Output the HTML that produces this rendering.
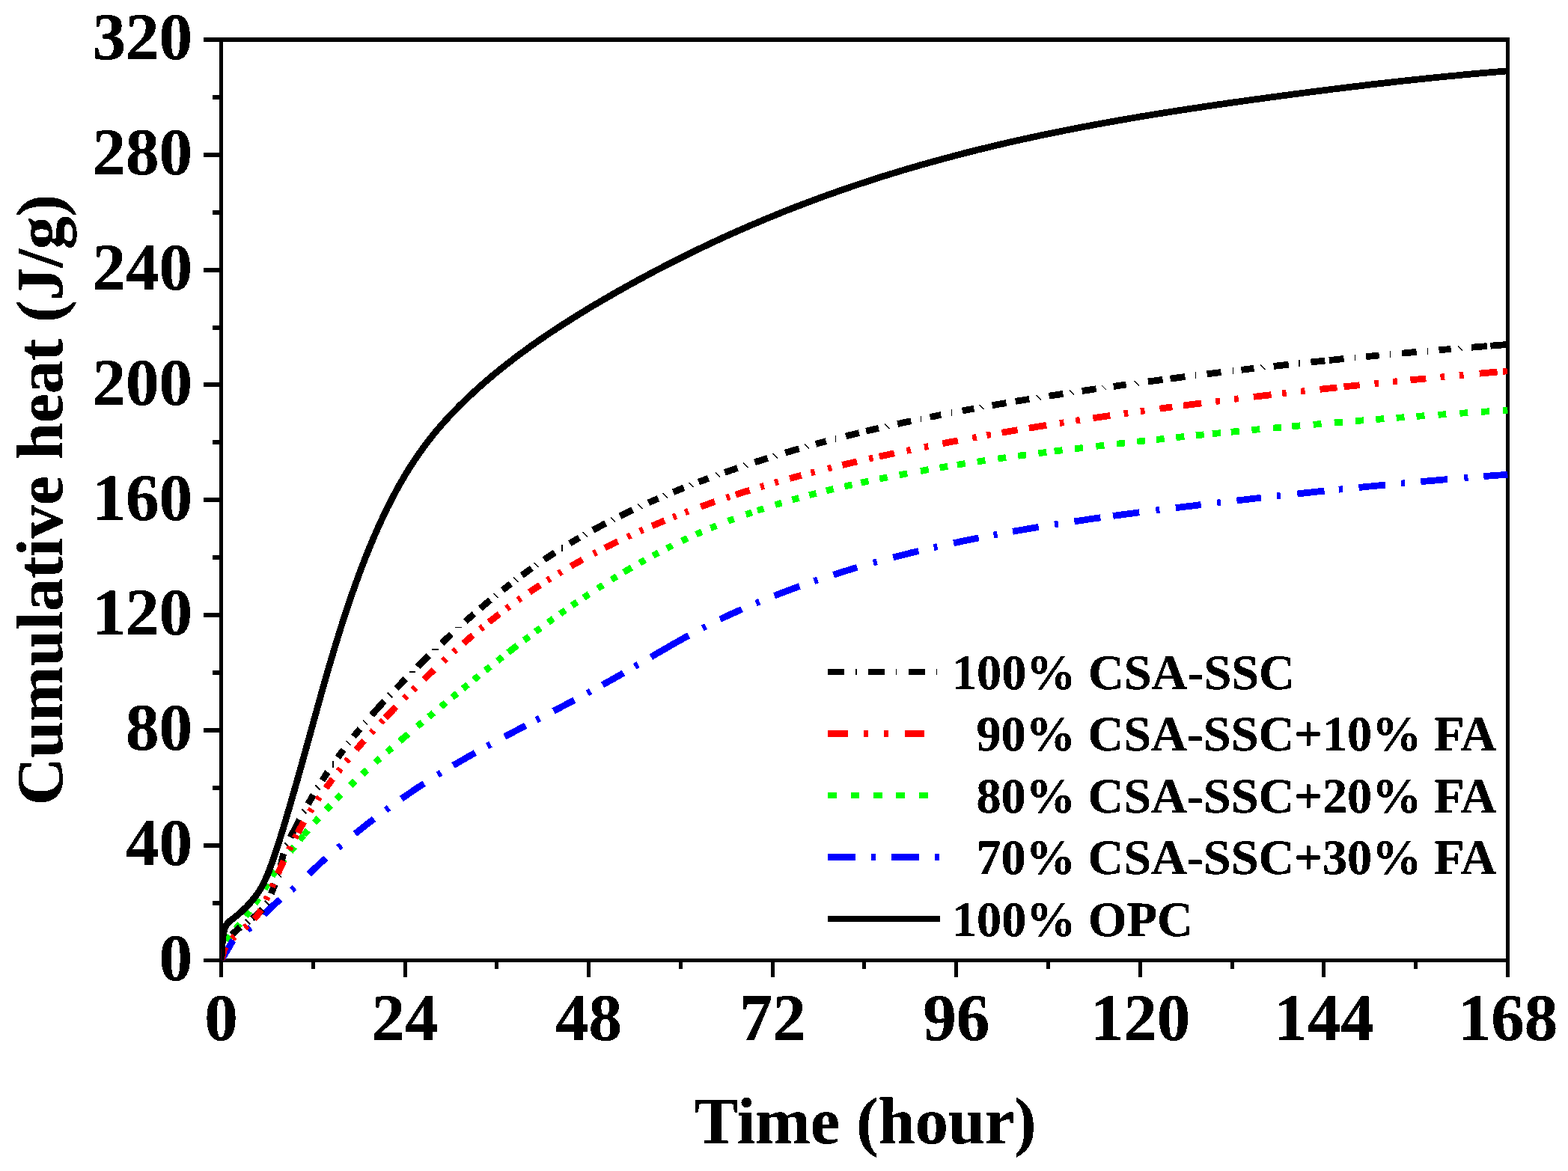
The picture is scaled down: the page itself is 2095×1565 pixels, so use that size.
<!DOCTYPE html>
<html lang="en">
<head>
<meta charset="utf-8">
<title>Cumulative heat</title>
<style>
html,body{margin:0;padding:0;background:#ffffff;}
body{width:2095px;height:1565px;overflow:hidden;}
svg{display:block;}
text{text-rendering:geometricPrecision;}
</style>
</head>
<body>
<svg width="2095" height="1565" viewBox="0 0 2095 1565">
<rect x="0" y="0" width="2095" height="1565" fill="#ffffff"/>
<defs><filter id="alias" x="-5%" y="-20%" width="110%" height="140%" color-interpolation-filters="sRGB"><feComponentTransfer><feFuncA type="discrete" tableValues="0 1 1 1"/></feComponentTransfer></filter></defs>
<g fill="#000000" shape-rendering="crispEdges">
<rect x="272" y="50" width="1745" height="6"/>
<rect x="272" y="1281" width="1745" height="5"/>
<rect x="293" y="50" width="5" height="1256"/>
<rect x="2012" y="50" width="5" height="1256"/>
<rect x="284" y="1204" width="11" height="6"/>
<rect x="272" y="1127" width="23" height="6"/>
<rect x="284" y="1050" width="11" height="6"/>
<rect x="272" y="973" width="23" height="6"/>
<rect x="284" y="896" width="11" height="6"/>
<rect x="272" y="819" width="23" height="6"/>
<rect x="284" y="742" width="11" height="6"/>
<rect x="272" y="665" width="23" height="6"/>
<rect x="284" y="588" width="11" height="6"/>
<rect x="272" y="511" width="23" height="6"/>
<rect x="284" y="435" width="11" height="6"/>
<rect x="272" y="358" width="23" height="6"/>
<rect x="284" y="281" width="11" height="6"/>
<rect x="272" y="204" width="23" height="6"/>
<rect x="284" y="127" width="11" height="6"/>
<rect x="416" y="1284" width="5" height="11"/>
<rect x="539" y="1284" width="5" height="22"/>
<rect x="661" y="1284" width="5" height="11"/>
<rect x="784" y="1284" width="5" height="22"/>
<rect x="907" y="1284" width="5" height="11"/>
<rect x="1030" y="1284" width="5" height="22"/>
<rect x="1152" y="1284" width="5" height="11"/>
<rect x="1275" y="1284" width="5" height="22"/>
<rect x="1398" y="1284" width="5" height="11"/>
<rect x="1521" y="1284" width="5" height="22"/>
<rect x="1644" y="1284" width="5" height="11"/>
<rect x="1766" y="1284" width="5" height="22"/>
<rect x="1889" y="1284" width="5" height="11"/>
</g>
<defs><clipPath id="plotclip"><rect x="295.5" y="53" width="1719" height="1230.5"/></clipPath></defs>
<g clip-path="url(#plotclip)">
<g shape-rendering="crispEdges">
<path d="M302.5,1257.6 L303.3,1256.1 L304.2,1254.7 L305.1,1253.3 L306.1,1251.9 L307.1,1250.6 M315.2,1241.2 L316.3,1239.9 L317.4,1238.7 L318.5,1237.4 L319.6,1236.1 L320.6,1234.8 M328.3,1224.5 L329.3,1223.1 L330.3,1221.8 L331.3,1220.4 L332.3,1219.0 L333.3,1217.7 M340.6,1207.5 L341.6,1206.1 L342.6,1204.7 L343.5,1203.3 L344.5,1202.0 L345.4,1200.6 M353.5,1188.1 L354.4,1186.7 L355.2,1185.2 L356.1,1183.8 L356.9,1182.3 L357.8,1180.9 M363.4,1171.0 L364.3,1169.6 L365.2,1168.2 L366.1,1166.7 L367.0,1165.3 L368.0,1164.0 M375.1,1154.6 L376.1,1153.2 L377.1,1151.9 L378.2,1150.6 L379.2,1149.3 L380.3,1148.0 M388.1,1138.1 L389.1,1136.7 L390.1,1135.4 L391.2,1134.1 L392.2,1132.8 L393.3,1131.5 M400.3,1122.8 L401.3,1121.5 L402.4,1120.2 L403.5,1118.9 L404.5,1117.6 L405.6,1116.3 M405.8,1116.0 L406.9,1114.7 L408.0,1113.5 L409.1,1112.2 L410.2,1110.9 L411.3,1109.6 M420.1,1099.6 L421.2,1098.3 L422.3,1097.1 L423.4,1095.8 L424.5,1094.6 L425.7,1093.3 M435.9,1082.3 L437.1,1081.0 L438.2,1079.8 L439.4,1078.6 L440.5,1077.4 L441.7,1076.2 M449.8,1067.9 L451.0,1066.7 L452.1,1065.5 L453.3,1064.3 L454.5,1063.1 L455.7,1062.0 M468.3,1049.7 L469.5,1048.5 L470.7,1047.4 L471.9,1046.2 L473.1,1045.0 L474.4,1043.9 M484.1,1034.8 L485.3,1033.6 L486.6,1032.5 L487.8,1031.4 L489.0,1030.2 L490.3,1029.1 M501.3,1019.2 L502.5,1018.0 L503.8,1016.9 L505.0,1015.8 L506.3,1014.7 L507.6,1013.6 M517.2,1005.1 L518.5,1004.0 L519.8,1002.9 L521.0,1001.8 L522.3,1000.7 L523.6,999.6 M534.0,990.6 L535.5,989.4 L536.9,988.2 L538.3,986.9 L539.8,985.7 L541.2,984.5 L542.6,983.3 L544.1,982.1 L545.5,980.9 M557.6,970.7 L558.9,969.6 L560.2,968.6 L561.5,967.5 L562.8,966.4 L564.1,965.3 M572.8,958.0 L574.1,957.0 L575.4,955.9 L576.7,954.8 L578.0,953.8 L579.3,952.7 M589.2,944.5 L590.5,943.4 L591.7,942.3 L593.0,941.3 L594.3,940.2 L595.6,939.1 M604.2,932.1 L605.5,931.0 L606.8,929.9 L608.1,928.9 L609.4,927.8 L610.7,926.7 M618.5,920.3 L619.8,919.3 L621.1,918.2 L622.4,917.1 L623.7,916.1 L625.0,915.0 M633.1,908.5 L634.4,907.4 L635.7,906.4 L637.0,905.3 L638.3,904.3 L639.6,903.2 M648.4,896.1 L649.8,895.1 L651.1,894.0 L652.4,893.0 L653.7,891.9 L655.0,890.9 M664.7,883.2 L666.0,882.2 L667.3,881.1 L668.6,880.1 L670.0,879.1 L671.3,878.0 M679.0,872.0 L680.5,870.8 L682.0,869.7 L683.5,868.5 L685.0,867.4 L686.5,866.2 L688.1,865.0 L689.6,863.9 L691.1,862.7 M700.2,855.7 L701.6,854.7 L702.9,853.7 L704.3,852.7 L705.6,851.7 L707.0,850.7 M715.4,844.3 L716.8,843.3 L718.1,842.3 L719.5,841.3 L720.8,840.3 L722.2,839.3 M732.4,831.9 L733.7,830.9 L735.1,829.9 L736.4,828.9 L737.8,827.9 L739.2,827.0 M748.4,820.4 L749.8,819.4 L751.2,818.4 L752.5,817.5 L753.9,816.5 L755.3,815.5 M764.2,809.3 L765.6,808.4 L767.0,807.4 L768.4,806.5 L769.8,805.5 L771.1,804.6 M779.9,798.7 L781.3,797.7 L782.7,796.8 L784.1,795.9 L785.5,794.9 L786.9,794.0 M798.6,786.4 L800.0,785.5 L801.4,784.6 L802.8,783.7 L804.2,782.8 L805.6,781.9 M817.0,774.8 L818.4,773.9 L819.8,773.0 L821.2,772.1 L822.7,771.3 L824.1,770.4 M833.4,764.8 L834.9,763.9 L836.4,763.0 L837.9,762.1 L839.4,761.2 L840.9,760.3 L842.4,759.5 L843.9,758.6 M854.6,752.5 L856.0,751.6 L857.5,750.8 L859.0,750.0 L860.4,749.2 L861.9,748.3 M872.5,742.5 L874.0,741.7 L875.5,741.0 L877.0,740.2 L878.4,739.4 L879.9,738.6 M890.9,732.9 L892.3,732.2 L893.8,731.4 L895.3,730.6 L896.8,729.9 L898.3,729.1 M911.0,723.0 L912.5,722.2 L914.0,721.5 L915.5,720.8 L917.0,720.1 L918.6,719.4 M930.0,714.2 L931.5,713.5 L933.0,712.8 L934.6,712.1 L936.1,711.4 L937.7,710.8 M949.4,705.7 L951.0,705.1 L952.5,704.5 L954.1,703.8 L955.6,703.2 L957.2,702.5 M972.8,696.4 L974.4,695.8 L975.9,695.2 L977.5,694.6 L979.1,694.0 L980.7,693.4 M996.6,687.6 L998.2,687.1 L999.9,686.5 L1001.5,685.9 L1003.1,685.4 L1004.7,684.8 M1011.8,682.4 L1013.5,681.9 L1015.2,681.3 L1016.9,680.7 L1018.6,680.2 L1020.3,679.6 M1035.7,674.8 L1037.5,674.2 L1039.2,673.7 L1041.0,673.1 L1042.8,672.6 L1044.5,672.1 M1058.4,668.0 L1060.2,667.5 L1062.0,667.0 L1063.9,666.5 L1065.7,666.0 L1067.5,665.5 M1081.2,661.7 L1083.1,661.2 L1085.0,660.7 L1086.8,660.3 L1088.7,659.8 L1090.6,659.3 M1103.9,655.9 L1105.5,655.5 L1107.1,655.1 L1108.7,654.7 L1110.4,654.3 L1112.0,653.9 L1113.6,653.5 M1128.4,650.1 L1130.1,649.7 L1131.7,649.3 L1133.4,648.9 L1135.1,648.5 L1136.7,648.2 L1138.4,647.8 M1150.3,645.2 L1152.0,644.8 L1153.7,644.4 L1155.4,644.1 L1157.1,643.7 L1158.8,643.3 L1160.5,643.0 M1175.2,639.9 L1177.0,639.6 L1178.7,639.2 L1180.5,638.9 L1182.2,638.5 L1183.9,638.2 L1185.7,637.8 M1201.7,634.7 L1203.5,634.4 L1205.2,634.1 L1207.0,633.7 L1208.8,633.4 L1210.5,633.1 L1212.3,632.7 M1229.9,629.5 L1231.7,629.2 L1233.5,628.9 L1235.3,628.6 L1237.1,628.3 L1238.9,627.9 L1240.7,627.6 M1255.5,625.1 L1257.3,624.8 L1259.1,624.5 L1260.9,624.2 L1262.7,623.9 L1264.5,623.6 L1266.3,623.3 M1278.9,621.3 L1280.7,621.0 L1282.5,620.7 L1284.3,620.4 L1286.2,620.1 L1288.0,619.8 L1289.8,619.5 M1305.6,617.1 L1307.4,616.9 L1309.2,616.6 L1311.0,616.3 L1312.8,616.0 L1314.6,615.8 L1316.4,615.5 M1333.2,613.1 L1335.1,612.8 L1336.9,612.6 L1338.7,612.3 L1340.5,612.0 L1342.3,611.8 L1344.1,611.5 M1360.2,609.3 L1362.0,609.1 L1363.8,608.8 L1365.6,608.6 L1367.5,608.4 L1369.3,608.1 L1371.1,607.9 M1387.4,605.7 L1389.2,605.5 L1391.1,605.3 L1392.9,605.1 L1394.7,604.8 L1396.5,604.6 L1398.3,604.4 M1408.7,603.1 L1410.5,602.8 L1412.4,602.6 L1414.2,602.4 L1416.0,602.2 L1417.8,601.9 L1419.6,601.7 M1436.0,599.7 L1437.8,599.5 L1439.6,599.3 L1441.5,599.1 L1443.3,598.9 L1445.1,598.6 L1446.9,598.4 M1464.3,596.4 L1466.1,596.2 L1467.9,596.0 L1469.7,595.8 L1471.6,595.6 L1473.4,595.4 L1475.2,595.1 M1492.1,593.2 L1493.9,593.0 L1495.7,592.8 L1497.5,592.6 L1499.4,592.4 L1501.2,592.2 L1503.0,592.0 M1519.2,590.2 L1521.0,590.0 L1522.8,589.8 L1524.6,589.6 L1526.4,589.4 L1528.3,589.2 L1530.1,589.0 M1544.8,587.4 L1546.6,587.3 L1548.4,587.1 L1550.2,586.9 L1552.0,586.7 L1553.9,586.5 L1555.7,586.3 M1571.4,584.6 L1573.2,584.5 L1575.0,584.3 L1576.8,584.1 L1578.7,583.9 L1580.5,583.7 L1582.3,583.5 M1597.7,581.9 L1599.6,581.8 L1601.4,581.6 L1603.2,581.4 L1605.0,581.2 L1606.9,581.0 L1608.7,580.8 M1619.9,579.7 L1621.7,579.5 L1623.5,579.4 L1625.4,579.2 L1627.2,579.0 L1629.0,578.8 L1630.8,578.7 M1644.8,577.3 L1646.6,577.1 L1648.4,576.9 L1650.2,576.8 L1652.1,576.6 L1653.9,576.4 L1655.7,576.3 M1672.4,574.7 L1674.2,574.5 L1676.1,574.3 L1677.9,574.2 L1679.7,574.0 L1681.5,573.8 L1683.4,573.7 M1701.1,572.0 L1702.9,571.9 L1704.7,571.7 L1706.5,571.5 L1708.4,571.4 L1710.2,571.2 L1712.0,571.1 M1726.2,569.8 L1728.1,569.6 L1729.9,569.5 L1731.7,569.3 L1733.5,569.2 L1735.4,569.0 L1737.2,568.8 M1754.6,567.3 L1756.5,567.2 L1758.3,567.0 L1760.1,566.9 L1761.9,566.7 L1763.8,566.6 L1765.6,566.4 M1782.8,565.0 L1784.6,564.8 L1786.5,564.7 L1788.3,564.5 L1790.1,564.4 L1791.9,564.2 L1793.8,564.1 M1811.2,562.6 L1813.0,562.5 L1814.9,562.4 L1816.7,562.2 L1818.5,562.1 L1820.4,561.9 L1822.2,561.8 M1838.4,560.5 L1840.2,560.4 L1842.0,560.2 L1843.9,560.1 L1845.7,559.9 L1847.5,559.8 L1849.4,559.7 M1865.6,558.4 L1867.4,558.3 L1869.2,558.1 L1871.0,558.0 L1872.9,557.9 L1874.7,557.7 L1876.5,557.6 M1892.5,556.4 L1894.3,556.3 L1896.1,556.2 L1898.0,556.0 L1899.8,555.9 L1901.6,555.8 L1903.5,555.6 M1921.4,554.4 L1923.2,554.2 L1925.1,554.1 L1926.9,554.0 L1928.7,553.8 L1930.5,553.7 L1932.4,553.6 M1950.3,552.4 L1952.1,552.2 L1954.0,552.1 L1955.8,552.0 L1957.6,551.9 L1959.5,551.7 L1961.3,551.6 M1979.0,550.4 L1980.8,550.3 L1982.6,550.2 L1984.4,550.1 L1986.3,550.0 L1988.1,549.8 L1989.9,549.7 M2007.9,548.6 L2009.5,548.5 L2011.2,548.4 L2012.8,548.3 L2014.5,548.2" fill="none" stroke="#00ff00" stroke-width="8.8" stroke-linecap="butt" stroke-linejoin="round"/>
<path d="M295.6,1283.3 L296.6,1281.6 L297.6,1279.9 L298.6,1278.2 L299.6,1276.6 L300.6,1274.9 L301.7,1273.2 L302.7,1271.6 L303.6,1269.9 L304.6,1268.2 L305.6,1266.5 L306.5,1264.8 L307.5,1263.1 L308.5,1261.4 L309.5,1259.7 L310.5,1258.1 L311.7,1256.5 M330.8,1242.4 L332.2,1241.5 L333.5,1240.5 L334.9,1239.5 M352.7,1222.7 L354.1,1221.2 L355.4,1219.8 L356.8,1218.3 L358.2,1216.9 L359.6,1215.4 L361.0,1214.0 L362.4,1212.6 L363.8,1211.2 L365.3,1209.8 L366.8,1208.5 L368.3,1207.2 L369.8,1205.9 L371.3,1204.6 L372.9,1203.3 L374.4,1202.0 M389.8,1189.6 L391.1,1188.5 L392.3,1187.4 L393.6,1186.3 M412.6,1168.3 L414.0,1166.9 L415.4,1165.6 L416.8,1164.2 L418.2,1162.8 L419.6,1161.5 L421.0,1160.1 L422.5,1158.8 L423.9,1157.4 L425.3,1156.1 L426.7,1154.8 L428.2,1153.5 L429.6,1152.1 L431.1,1150.8 L432.5,1149.5 L434.0,1148.2 L435.5,1146.9 M452.0,1132.8 L453.3,1131.8 L454.6,1130.7 L455.9,1129.6 M474.3,1114.4 L475.8,1113.2 L477.3,1112.0 L478.8,1110.8 L480.2,1109.6 L481.7,1108.4 L483.2,1107.2 L484.7,1106.1 L486.1,1104.9 L487.6,1103.7 L489.1,1102.5 L490.6,1101.4 L492.1,1100.2 L493.6,1099.0 L495.1,1097.9 L496.6,1096.7 L498.1,1095.6 L499.6,1094.4 M515.4,1082.6 L516.7,1081.6 L518.1,1080.6 L519.4,1079.6 M536.3,1067.6 L537.9,1066.5 L539.5,1065.4 L541.0,1064.3 L542.6,1063.2 L544.2,1062.1 L545.8,1061.0 L547.4,1059.9 L549.0,1058.8 L550.6,1057.8 L552.2,1056.7 L553.7,1055.6 L555.3,1054.5 L556.9,1053.5 L558.5,1052.4 L560.1,1051.4 L561.8,1050.3 L563.4,1049.2 L565.0,1048.2 L566.6,1047.2 M584.9,1035.5 L586.4,1034.6 L587.8,1033.7 L589.2,1032.9 M605.5,1023.0 L607.2,1022.0 L608.9,1021.0 L610.6,1020.0 L612.3,1019.0 L614.1,1018.0 L615.8,1017.0 L617.5,1016.0 L619.3,1015.0 L621.0,1014.0 L622.7,1013.0 L624.5,1012.0 L626.2,1011.0 L627.9,1010.0 L629.7,1009.0 L631.4,1008.0 L633.2,1007.1 L634.9,1006.1 M651.1,997.1 L652.5,996.3 L654.0,995.5 L655.5,994.7 M674.4,984.5 L676.1,983.6 L677.8,982.7 L679.6,981.7 L681.3,980.8 L683.1,979.9 L684.8,979.0 L686.5,978.1 L688.3,977.1 L690.0,976.2 L691.8,975.3 L693.5,974.4 L695.3,973.5 L697.0,972.5 L698.7,971.6 L700.5,970.7 L702.2,969.8 M716.6,962.3 L718.1,961.5 L719.6,960.7 L721.1,959.9 M739.5,950.3 L741.2,949.4 L743.0,948.5 L744.7,947.6 L746.4,946.7 L748.2,945.8 L749.9,944.9 L751.7,943.9 L753.4,943.0 L755.2,942.1 L756.9,941.2 L758.6,940.3 L760.4,939.3 L762.1,938.4 L763.9,937.5 L765.6,936.6 L767.4,935.7 M784.8,926.4 L786.2,925.6 L787.7,924.8 L789.2,924.0 M805.0,915.3 L806.6,914.4 L808.3,913.5 L809.9,912.6 L811.6,911.6 L813.2,910.7 L814.9,909.8 L816.6,908.9 L818.2,907.9 L819.9,907.0 L821.5,906.1 L823.2,905.1 L824.8,904.2 L826.5,903.2 L828.1,902.3 L829.7,901.4 L831.4,900.4 L833.0,899.5 M848.2,890.7 L849.6,889.8 L851.0,889.0 L852.5,888.2 M869.7,878.1 L871.4,877.1 L873.1,876.1 L874.8,875.1 L876.5,874.1 L878.1,873.2 L879.8,872.2 L881.5,871.2 L883.2,870.2 L884.8,869.3 L886.5,868.3 L888.2,867.3 L889.9,866.4 L891.6,865.4 L893.3,864.4 L894.9,863.5 L896.6,862.5 L898.3,861.5 L900.0,860.6 L901.7,859.6 L903.4,858.6 L905.1,857.7 L906.8,856.7 L908.4,855.8 L910.1,854.8 L911.8,853.9 L913.5,853.0 L915.2,852.0 L916.9,851.1 L918.6,850.1 L920.3,849.2 M938.6,839.4 L940.1,838.7 L941.6,837.9 L943.1,837.2 M962.1,827.7 L963.8,826.9 L965.5,826.1 L967.2,825.2 L968.9,824.4 L970.6,823.6 L972.3,822.8 L974.1,822.0 L975.8,821.2 L977.5,820.4 L979.2,819.7 L980.9,818.9 L982.6,818.1 L984.3,817.3 L986.1,816.5 L987.8,815.8 L989.5,815.0 L991.2,814.2 M1010.1,806.1 L1011.6,805.5 L1013.2,804.8 L1014.7,804.2 M1034.7,796.1 L1036.5,795.5 L1038.2,794.8 L1040.0,794.1 L1041.8,793.4 L1043.5,792.7 L1045.3,792.0 L1047.1,791.4 L1048.9,790.7 L1050.6,790.0 L1052.4,789.4 L1054.2,788.7 L1056.0,788.0 L1057.7,787.4 L1059.5,786.7 L1061.3,786.1 L1063.1,785.4 L1064.9,784.8 L1066.6,784.1 L1068.4,783.5 M1087.8,776.7 L1089.3,776.2 L1090.9,775.6 L1092.5,775.1 M1113.5,768.2 L1115.4,767.6 L1117.2,767.0 L1119.1,766.4 L1120.9,765.8 L1122.8,765.2 L1124.7,764.6 L1126.5,764.0 L1128.4,763.5 L1130.3,762.9 L1132.1,762.3 L1134.0,761.7 L1135.9,761.2 L1137.8,760.6 L1139.6,760.0 L1141.5,759.5 L1143.4,758.9 L1145.2,758.4 M1166.9,752.1 L1168.5,751.7 L1170.1,751.2 L1171.7,750.8 M1193.2,745.0 L1195.1,744.5 L1197.0,744.0 L1198.9,743.5 L1200.8,743.0 L1202.7,742.5 L1204.6,742.1 L1206.5,741.6 L1208.4,741.1 L1210.3,740.6 L1212.1,740.2 L1214.0,739.7 L1215.9,739.2 L1217.8,738.7 L1219.7,738.3 L1221.6,737.8 L1223.5,737.3 L1225.4,736.9 L1227.3,736.4 M1247.6,731.7 L1249.3,731.3 L1250.9,730.9 L1252.5,730.5 M1274.1,725.8 L1276.0,725.4 L1277.8,725.0 L1279.7,724.6 L1281.6,724.2 L1283.4,723.8 L1285.3,723.4 L1287.2,723.0 L1289.0,722.6 L1290.9,722.3 L1292.8,721.9 L1294.6,721.5 L1296.5,721.1 L1298.4,720.7 L1300.2,720.4 L1302.1,720.0 L1304.0,719.6 L1305.9,719.2 L1307.7,718.9 M1327.6,715.0 L1329.2,714.7 L1330.9,714.4 L1332.5,714.1 M1353.1,710.3 L1355.0,710.0 L1357.0,709.7 L1358.9,709.3 L1360.8,709.0 L1362.7,708.6 L1364.7,708.3 L1366.6,708.0 L1368.5,707.6 L1370.5,707.3 L1372.4,707.0 L1374.3,706.6 L1376.2,706.3 L1378.2,706.0 L1380.1,705.7 L1382.0,705.3 L1384.0,705.0 L1385.9,704.7 L1387.8,704.4 M1409.0,701.0 L1410.6,700.7 L1412.3,700.4 L1413.9,700.2 M1435.4,696.9 L1437.3,696.6 L1439.2,696.3 L1441.2,696.0 L1443.1,695.8 L1445.1,695.5 L1447.0,695.2 L1449.0,694.9 L1450.9,694.6 L1452.8,694.3 L1454.8,694.0 L1456.7,693.8 L1458.7,693.5 L1460.6,693.2 L1462.5,692.9 L1464.5,692.7 L1466.4,692.4 L1468.4,692.1 L1470.3,691.8 M1487.1,689.5 L1489.0,689.2 L1491.0,689.0 L1492.9,688.7 L1494.9,688.4 L1496.8,688.2 L1498.8,687.9 L1500.7,687.7 L1502.7,687.4 L1504.6,687.1 L1506.6,686.9 L1508.5,686.6 L1510.5,686.4 L1512.4,686.1 L1514.4,685.9 L1516.3,685.6 L1518.3,685.3 L1520.2,685.1 L1522.2,684.8 M1544.4,682.0 L1546.0,681.8 L1547.7,681.6 L1549.3,681.4 M1570.8,678.7 L1572.6,678.5 L1574.5,678.2 L1576.4,678.0 L1578.3,677.8 L1580.2,677.6 L1582.0,677.3 L1583.9,677.1 L1585.8,676.9 L1587.7,676.6 L1589.6,676.4 L1591.4,676.2 L1593.3,676.0 L1595.2,675.7 L1597.1,675.5 L1598.9,675.3 L1600.8,675.0 L1602.7,674.8 L1604.6,674.6 M1599.8,675.2 L1601.4,675.0 L1603.1,674.8 L1604.7,674.6 M1626.1,672.0 L1627.7,671.8 L1629.4,671.7 L1631.0,671.5 M1652.4,669.0 L1654.3,668.8 L1656.2,668.5 L1658.1,668.3 L1660.0,668.1 L1661.9,667.9 L1663.8,667.7 L1665.8,667.4 L1667.7,667.2 L1669.6,667.0 L1671.5,666.8 L1673.4,666.6 L1675.3,666.4 L1677.2,666.1 L1679.1,665.9 L1681.1,665.7 L1683.0,665.5 L1684.9,665.3 M1706.0,662.9 L1707.6,662.8 L1709.3,662.6 L1710.9,662.4 M1733.3,660.0 L1735.2,659.8 L1737.1,659.6 L1739.0,659.4 L1740.9,659.2 L1742.8,658.9 L1744.7,658.7 L1746.6,658.5 L1748.5,658.3 L1750.4,658.1 L1752.3,657.9 L1754.2,657.7 L1756.1,657.5 L1758.0,657.3 L1759.9,657.1 L1761.8,656.9 L1763.8,656.7 L1765.7,656.5 L1767.6,656.3 L1769.5,656.1 M1788.9,654.2 L1790.5,654.0 L1792.2,653.8 L1793.9,653.7 M1815.5,651.5 L1817.4,651.3 L1819.4,651.1 L1821.4,650.9 L1823.4,650.7 L1825.4,650.5 L1827.3,650.3 L1829.3,650.1 L1831.3,650.0 L1833.3,649.8 L1835.3,649.6 L1837.2,649.4 L1839.2,649.2 L1841.2,649.0 L1843.2,648.8 L1845.2,648.6 L1847.1,648.4 L1849.1,648.2 L1851.1,648.1 M1871.9,646.1 L1873.6,646.0 L1875.2,645.8 L1876.9,645.7 M1898.3,643.7 L1900.2,643.5 L1902.1,643.4 L1904.0,643.2 L1905.8,643.0 L1907.7,642.9 L1909.6,642.7 L1911.5,642.5 L1913.4,642.4 L1915.3,642.2 L1917.2,642.1 L1919.1,641.9 L1921.0,641.7 L1922.9,641.6 L1924.7,641.4 L1926.6,641.2 L1928.5,641.1 L1930.4,640.9 L1932.3,640.7 L1934.2,640.6 M1956.4,638.7 L1958.1,638.6 L1959.7,638.5 L1961.4,638.3 M1982.4,636.6 L1984.3,636.5 L1986.1,636.3 L1988.0,636.2 L1989.9,636.0 L1991.8,635.9 L1993.7,635.7 L1995.6,635.6 L1997.5,635.5 L1999.4,635.3 L2001.3,635.2 L2003.2,635.0 L2005.0,634.9 L2006.9,634.7 L2008.8,634.6 L2010.7,634.4 L2012.6,634.3 L2014.5,634.2" fill="none" stroke="#0000ff" stroke-width="8.8" stroke-linecap="butt" stroke-linejoin="round"/>
<path d="M309.6,1249.1 L320.9,1239.2 M336.9,1227.6 L338.3,1226.5 L339.8,1225.3 L341.2,1224.1 L342.7,1222.9 L344.1,1221.7 L345.5,1220.5 L346.8,1219.2 L348.1,1217.9 L349.4,1216.5 L350.7,1215.1 M362.3,1194.4 L363.0,1192.6 L363.7,1190.8 L364.5,1189.0 L365.2,1187.2 L366.0,1185.4 L366.8,1183.6 L367.6,1181.9 M375.4,1156.8 L375.7,1155.0 L376.0,1153.2 L376.3,1151.4 L376.7,1149.7 L377.1,1147.9 L377.5,1146.1 L378.0,1144.4 L378.4,1142.6 L379.0,1140.9 M388.1,1119.1 L388.9,1117.4 L389.8,1115.7 L390.6,1114.0 L391.5,1112.3 L392.4,1110.6 L393.3,1108.9 L394.1,1107.3 L395.0,1105.6 L395.9,1103.9 L396.8,1102.2 L397.6,1100.5 L398.5,1098.9 L399.4,1097.2 L400.3,1095.5 M411.6,1074.6 L412.5,1073.1 L413.3,1071.5 L414.2,1070.0 L415.1,1068.4 L416.0,1066.9 L416.9,1065.4 L417.8,1063.8 L418.7,1062.3 M430.5,1043.1 L431.5,1041.5 L432.6,1039.9 L433.6,1038.3 L434.7,1036.6 L435.8,1035.0 L436.8,1033.4 L437.9,1031.8 M451.4,1012.3 L452.5,1010.8 L453.5,1009.3 L454.6,1007.9 L455.7,1006.4 L456.8,1004.9 L457.8,1003.5 L458.9,1002.0 M472.5,984.4 L473.7,983.0 L474.9,981.5 L476.1,980.0 L477.3,978.6 L478.5,977.1 L479.7,975.6 L480.9,974.2 M496.6,955.8 L497.9,954.3 L499.1,952.9 L500.4,951.4 L501.7,950.0 L503.0,948.5 L504.3,947.1 L505.6,945.6 L506.9,944.2 L508.2,942.7 L509.5,941.3 L510.8,939.9 L512.2,938.4 L513.5,937.0 M529.4,920.1 L530.6,918.8 L531.9,917.5 L533.1,916.2 L534.4,914.9 L535.7,913.6 L536.9,912.3 L538.2,911.0 L539.4,909.7 L540.7,908.4 L541.9,907.1 M558.0,891.0 L559.3,889.6 L560.6,888.3 L562.0,887.0 L563.3,885.7 L564.6,884.4 L566.0,883.1 L567.3,881.7 L568.6,880.4 L569.9,879.1 L571.3,877.8 L572.6,876.5 M590.3,859.5 L591.7,858.2 L593.1,856.8 L594.5,855.5 L595.9,854.2 L597.3,852.9 L598.7,851.6 L600.1,850.3 L601.5,849.0 L602.9,847.7 M621.8,830.5 L623.3,829.2 L624.7,827.9 L626.1,826.7 L627.5,825.4 L629.0,824.2 L630.4,822.9 L631.9,821.7 L633.3,820.4 M641.8,813.1 L643.3,811.8 L644.7,810.6 L646.2,809.3 L647.7,808.1 L649.1,806.9 L650.6,805.6 L652.1,804.4 L653.6,803.2 L655.0,802.0 M671.5,788.6 L673.1,787.4 L674.6,786.2 L676.2,785.0 L677.7,783.8 L679.3,782.6 L680.8,781.4 L682.4,780.2 M697.3,768.9 L698.8,767.9 L700.2,766.8 L701.7,765.7 L703.1,764.7 L704.6,763.6 L706.0,762.6 L707.5,761.5 L709.0,760.5 L710.4,759.4 M727.1,748.0 L728.6,746.9 L730.2,745.8 L731.8,744.8 L733.4,743.7 L735.0,742.7 L736.6,741.6 L738.2,740.6 L739.8,739.6 L741.4,738.5 M761.3,726.2 L762.9,725.2 L764.5,724.3 L766.1,723.4 L767.7,722.4 L769.3,721.5 L770.8,720.6 L772.4,719.6 L774.0,718.7 M792.3,708.4 L794.0,707.5 L795.7,706.6 L797.4,705.7 L799.1,704.8 L800.8,703.9 L802.5,703.0 L804.2,702.1 L805.9,701.2 L807.6,700.3 L809.3,699.4 M828.5,689.7 L830.1,688.9 L831.8,688.1 L833.5,687.2 L835.1,686.4 L836.8,685.6 L838.5,684.8 L840.1,684.0 L841.8,683.2 L843.5,682.4 L845.1,681.6 M866.5,671.8 L868.1,671.1 L869.7,670.4 L871.3,669.7 L872.9,669.0 L874.5,668.3 L876.2,667.6 L877.8,666.9 L879.4,666.2 M899.5,657.7 L901.2,657.0 L903.0,656.3 L904.8,655.5 L906.6,654.8 L908.4,654.1 L910.2,653.3 L912.0,652.6 L913.8,651.9 M933.5,644.2 L935.4,643.5 L937.2,642.8 L939.1,642.1 L941.0,641.4 L942.8,640.7 L944.7,640.0 L946.5,639.3 M968.4,631.4 L970.1,630.8 L971.8,630.2 L973.5,629.6 L975.2,629.0 L976.9,628.4 L978.6,627.8 L980.3,627.3 L982.0,626.7 L983.7,626.1 L985.4,625.5 M1008.4,617.9 L1010.1,617.3 L1011.8,616.7 L1013.6,616.2 L1015.3,615.6 L1017.0,615.1 L1018.8,614.5 L1020.5,614.0 L1022.2,613.4 L1024.0,612.9 L1025.7,612.3 M1049.2,605.1 L1051.0,604.6 L1052.9,604.0 L1054.7,603.5 L1056.5,603.0 L1058.4,602.4 L1060.2,601.9 L1062.1,601.3 L1063.9,600.8 L1065.7,600.3 L1067.6,599.7 M1090.0,593.5 L1091.7,593.0 L1093.5,592.5 L1095.2,592.0 L1096.9,591.6 L1098.6,591.1 L1100.4,590.6 L1102.1,590.2 L1103.8,589.7 M1130.2,582.9 L1131.9,582.4 L1133.7,582.0 L1135.5,581.5 L1137.3,581.1 L1139.0,580.7 L1140.8,580.2 L1142.6,579.8 L1144.4,579.3 L1146.1,578.9 L1147.9,578.5 M1157.2,576.2 L1159.1,575.8 L1160.9,575.3 L1162.8,574.9 L1164.7,574.5 L1166.5,574.0 L1168.4,573.6 L1170.3,573.2 L1172.1,572.7 L1174.0,572.3 M1199.3,566.6 L1201.1,566.2 L1202.9,565.8 L1204.7,565.4 L1206.5,565.0 L1208.3,564.6 L1210.1,564.2 L1211.9,563.8 L1213.7,563.5 L1215.5,563.1 L1217.3,562.7 M1242.7,557.4 L1244.5,557.0 L1246.3,556.7 L1248.2,556.3 L1250.0,555.9 L1251.8,555.6 L1253.6,555.2 L1255.5,554.8 L1257.3,554.5 M1285.8,549.0 L1287.7,548.6 L1289.7,548.3 L1291.6,547.9 L1293.6,547.6 L1295.5,547.2 L1297.5,546.8 L1299.4,546.5 L1301.4,546.1 M1325.7,541.8 L1327.6,541.4 L1329.5,541.1 L1331.3,540.8 L1333.2,540.5 L1335.0,540.1 L1336.9,539.8 L1338.8,539.5 L1340.6,539.2 L1342.5,538.9 L1344.4,538.6 M1356.8,536.5 L1358.7,536.1 L1360.5,535.8 L1362.4,535.5 L1364.2,535.2 L1366.0,534.9 L1367.9,534.6 L1369.7,534.3 L1371.6,534.0 L1373.4,533.7 L1375.3,533.4 M1401.6,529.2 L1403.5,528.9 L1405.3,528.6 L1407.2,528.3 L1409.1,528.1 L1411.0,527.8 L1412.9,527.5 L1414.7,527.2 L1416.6,526.9 L1418.5,526.6 L1420.4,526.3 M1445.8,522.5 L1447.7,522.2 L1449.6,521.9 L1451.5,521.7 L1453.4,521.4 L1455.3,521.1 L1457.1,520.8 L1459.0,520.5 L1460.9,520.3 L1462.8,520.0 L1464.7,519.7 M1487.7,516.4 L1489.6,516.2 L1491.4,515.9 L1493.3,515.6 L1495.2,515.4 L1497.1,515.1 L1499.0,514.8 L1500.9,514.6 L1502.8,514.3 L1504.7,514.0 M1533.8,510.0 L1535.8,509.8 L1537.7,509.5 L1539.7,509.2 L1541.7,509.0 L1543.7,508.7 L1545.6,508.5 L1547.6,508.2 L1549.6,507.9 L1551.6,507.7 L1553.6,507.4 M1563.6,506.1 L1565.5,505.8 L1567.5,505.6 L1569.5,505.3 L1571.5,505.1 L1573.5,504.8 L1575.4,504.6 L1577.4,504.3 L1579.4,504.0 L1581.4,503.8 L1583.4,503.5 M1612.6,499.9 L1614.4,499.6 L1616.3,499.4 L1618.2,499.2 L1620.1,498.9 L1622.0,498.7 L1623.9,498.5 L1625.8,498.2 L1627.7,498.0 L1629.6,497.8 L1631.5,497.6 M1658.5,494.3 L1660.4,494.1 L1662.2,493.9 L1664.1,493.7 L1666.0,493.5 L1667.9,493.2 L1669.8,493.0 L1671.6,492.8 L1673.5,492.6 L1675.4,492.4 M1701.7,489.4 L1703.5,489.2 L1705.3,489.0 L1707.2,488.8 L1709.0,488.6 L1710.8,488.4 L1712.7,488.2 L1714.5,488.0 L1716.3,487.8 L1718.1,487.6 L1720.0,487.4 L1721.8,487.2 M1751.4,484.0 L1753.3,483.8 L1755.2,483.6 L1757.1,483.4 L1759.0,483.2 L1760.9,483.0 L1762.8,482.8 L1764.6,482.6 L1766.5,482.4 L1768.4,482.3 L1770.3,482.1 M1775.9,481.5 L1777.8,481.3 L1779.8,481.1 L1781.8,480.9 L1783.8,480.7 L1785.7,480.5 L1787.7,480.3 L1789.7,480.1 L1791.7,479.9 L1793.7,479.7 L1795.6,479.5 M1825.2,476.6 L1827.1,476.4 L1829.1,476.2 L1831.0,476.1 L1832.9,475.9 L1834.9,475.7 L1836.8,475.5 L1838.8,475.3 L1840.7,475.1 L1842.7,474.9 M1873.2,472.1 L1875.1,472.0 L1877.1,471.8 L1879.0,471.6 L1881.0,471.4 L1882.9,471.3 L1884.9,471.1 L1886.8,470.9 L1888.8,470.7 L1890.7,470.6 L1892.7,470.4 M1922.5,467.8 L1924.3,467.7 L1926.1,467.5 L1927.9,467.4 L1929.7,467.2 L1931.5,467.1 L1933.3,466.9 L1935.1,466.8 L1936.9,466.6 L1938.6,466.5 M1966.1,464.2 L1968.0,464.1 L1969.9,463.9 L1971.8,463.8 L1973.6,463.6 L1975.5,463.5 L1977.4,463.3 L1979.2,463.2 L1981.1,463.0 L1983.0,462.9 L1984.9,462.7 L1986.7,462.6 M1991.4,462.2 L1993.3,462.1 L1995.2,461.9 L1997.2,461.8 L1999.1,461.6 L2001.0,461.5 L2002.9,461.3 L2004.8,461.2 L2006.7,461.0 L2008.6,460.9 L2010.6,460.7 L2012.5,460.6" fill="none" stroke="#000000" stroke-width="8.8" stroke-linecap="butt" stroke-linejoin="round"/>
<path d="M327.9,1228.9 L334.1,1235.1 M353.7,1203.5 L359.9,1209.7 M369.6,1166.1 L375.9,1172.4 M380.1,1126.4 L386.3,1132.6 M403.2,1081.1 L409.4,1087.4 M421.4,1049.5 L427.6,1055.8 M445.2,1016.7 L445.2,1025.5 M462.6,990.0 L468.8,996.2 M485.0,962.5 L491.2,968.7 M518.0,925.7 L524.2,931.9 M546.5,898.1 L555.3,898.1 M576.9,868.1 L585.7,868.1" fill="none" stroke="#000000" stroke-width="1.9" stroke-linecap="butt"/>
<path d="M608.3,838.7 L617.1,838.7 M659.1,793.0 L665.3,799.2 M686.2,771.8 L692.4,778.0 M713.7,751.9 L719.9,758.1 M751.1,728.0 L751.1,736.8 M778.7,711.2 L784.9,717.4 M815.7,691.4 L822.0,697.6 M852.0,673.9 L858.2,680.1 M885.7,659.0 L891.9,665.3 M920.3,645.0 L926.5,651.2 M955.9,631.7 L962.1,637.9 M993.4,618.6 L999.7,624.9 M1032.9,606.0 L1039.1,612.2 M1074.8,593.7 L1081.1,599.9 M1116.5,582.0 L1116.5,590.8 M1182.3,566.6 L1188.5,572.8 M1230.6,555.5 L1230.6,564.3 M1271.6,547.3 L1271.6,556.1 M1308.3,541.2 L1314.5,547.4 M1384.5,528.3 L1390.8,534.5 M1428.6,521.5 L1434.8,527.7 M1472.1,515.1 L1478.3,521.3 M1515.7,509.0 L1521.9,515.2 M1597.6,497.3 L1597.6,506.1 M1647.4,491.2 L1647.4,500.0 M1684.0,487.9 L1690.3,494.2 M1736.1,481.2 L1736.1,490.0 M1810.4,473.6 L1810.4,482.4 M1857.4,469.2 L1857.4,478.0 M1907.5,464.7 L1907.5,473.5 M1948.0,462.3 L1954.2,468.5" fill="none" stroke="#000000" stroke-width="1.3" stroke-linecap="butt"/>
<path d="M295.7,1283.0 L296.3,1281.3 L296.8,1279.6 L297.3,1277.8 L297.8,1276.0 L298.2,1274.3 L298.7,1272.5 L299.1,1270.7 L299.7,1269.0 L300.3,1267.3 L301.1,1265.6 M310.1,1254.6 L311.3,1253.5 L312.5,1252.5 L313.6,1251.5 M326.9,1240.0 L328.1,1239.0 L329.3,1238.0 L330.4,1236.9 M339.5,1228.2 L340.8,1226.8 L342.1,1225.3 L343.3,1223.9 L344.5,1222.3 L345.6,1220.8 L346.7,1219.2 L347.7,1217.6 L348.7,1215.9 M355.5,1202.5 L356.1,1201.1 L356.8,1199.6 L357.4,1198.2 M363.2,1185.4 L363.8,1184.0 L364.5,1182.6 L365.1,1181.1 M371.1,1167.7 L371.9,1166.0 L372.7,1164.3 L373.5,1162.6 L374.3,1160.9 L375.1,1159.2 L375.9,1157.5 L376.6,1155.8 L377.4,1154.1 L378.2,1152.3 L379.0,1150.6 M386.3,1135.6 L387.0,1134.2 L387.7,1132.8 L388.3,1131.4 M394.2,1119.9 L394.9,1118.5 L395.6,1117.2 L396.4,1115.8 M397.9,1113.0 L398.7,1111.4 L399.6,1109.7 L400.5,1108.1 L401.4,1106.5 L402.3,1104.9 L403.3,1103.2 L404.2,1101.6 L405.1,1100.0 L406.0,1098.4 M414.1,1085.0 L414.9,1083.7 L415.8,1082.4 L416.6,1081.1 M424.4,1069.1 L425.2,1067.8 L426.1,1066.5 L427.0,1065.2 M435.4,1053.3 L436.5,1051.7 L437.6,1050.2 L438.7,1048.7 L439.8,1047.1 L441.0,1045.6 L442.1,1044.1 L443.2,1042.5 L444.4,1041.0 M452.2,1030.8 L453.2,1029.6 L454.1,1028.4 L455.1,1027.1 M462.5,1017.9 L463.5,1016.7 L464.5,1015.5 L465.5,1014.3 M475.9,1002.0 L477.1,1000.6 L478.3,999.3 L479.4,997.9 L480.6,996.6 L481.8,995.3 L482.9,993.9 L484.1,992.6 L485.3,991.3 L486.5,989.9 M495.8,979.6 L496.9,978.4 L498.0,977.3 L499.0,976.1 M508.7,965.8 L509.7,964.7 L510.8,963.5 L511.9,962.4 M515.0,959.2 L516.2,957.9 L517.5,956.5 L518.8,955.2 L520.1,953.9 L521.4,952.6 L522.7,951.2 L524.0,949.9 L525.2,948.6 L526.5,947.3 L527.8,945.9 L529.1,944.6 M540.0,933.7 L541.1,932.6 L542.3,931.4 L543.4,930.3 M551.8,922.0 L552.9,920.9 L554.1,919.8 L555.2,918.7 M566.3,908.0 L567.6,906.7 L569.0,905.4 L570.3,904.2 L571.6,902.9 L573.0,901.6 L574.3,900.3 L575.7,899.1 L577.0,897.8 L578.4,896.5 L579.7,895.3 M592.3,883.6 L593.5,882.5 L594.6,881.5 L595.8,880.4 M605.9,871.4 L607.1,870.3 L608.2,869.3 L609.4,868.3 M619.3,859.6 L620.7,858.4 L622.1,857.3 L623.5,856.1 L624.8,854.9 L626.2,853.7 L627.6,852.5 L629.0,851.3 L630.4,850.1 L631.8,849.0 M641.7,840.8 L642.9,839.8 L644.1,838.8 L645.4,837.8 M653.2,831.5 L654.8,830.2 L656.3,829.0 L657.9,827.8 L659.4,826.6 L661.0,825.4 L662.5,824.2 L664.1,823.0 L665.6,821.8 L667.2,820.6 M676.8,813.3 L678.1,812.3 L679.3,811.4 L680.6,810.5 M692.1,802.1 L693.4,801.2 L694.6,800.3 L695.9,799.4 M707.3,791.5 L708.9,790.4 L710.4,789.4 L712.0,788.3 L713.6,787.2 L715.2,786.2 L716.8,785.1 L718.4,784.1 L720.0,783.0 L721.6,782.0 M731.3,775.7 L732.7,774.8 L734.0,774.0 L735.3,773.2 M746.4,766.4 L747.7,765.6 L749.1,764.8 L750.4,763.9 M762.8,756.7 L764.5,755.7 L766.3,754.7 L768.0,753.7 L769.7,752.8 L771.4,751.8 L773.1,750.8 L774.9,749.9 L776.6,748.9 L778.3,748.0 M793.0,740.1 L794.4,739.3 L795.7,738.6 L797.1,737.9 M808.2,732.2 L809.9,731.3 L811.6,730.5 L813.3,729.6 L815.1,728.8 L816.8,727.9 L818.5,727.0 L820.3,726.2 L822.0,725.3 L823.7,724.5 L825.5,723.7 M838.5,717.5 L839.9,716.8 L841.4,716.2 L842.8,715.5 M855.2,709.9 L856.6,709.2 L858.0,708.6 L859.5,708.0 M871.1,702.9 L872.8,702.2 L874.5,701.5 L876.2,700.8 L877.8,700.1 L879.5,699.3 L881.2,698.6 L882.9,697.9 L884.6,697.2 L886.3,696.5 L888.0,695.8 M899.3,691.3 L900.7,690.7 L902.2,690.1 L903.6,689.5 M915.4,685.0 L916.8,684.4 L918.3,683.9 L919.8,683.3 M936.3,677.2 L938.2,676.5 L940.1,675.8 L941.9,675.2 L943.8,674.5 L945.6,673.8 L947.5,673.2 L949.4,672.5 L951.2,671.9 L953.1,671.2 L955.0,670.6 M970.6,665.2 L972.2,664.7 L973.7,664.2 L975.2,663.7 M982.9,661.2 L984.8,660.6 L986.7,659.9 L988.5,659.3 L990.4,658.7 L992.3,658.1 L994.2,657.5 L996.1,656.9 L997.9,656.4 L999.8,655.8 L1001.7,655.2 M1016.0,650.8 L1017.6,650.3 L1019.2,649.8 L1020.8,649.4 M1035.2,645.2 L1036.8,644.7 L1038.4,644.2 L1040.0,643.8 M1055.1,639.5 L1056.9,639.1 L1058.6,638.6 L1060.3,638.1 L1062.1,637.6 L1063.8,637.2 L1065.5,636.7 L1067.3,636.2 L1069.0,635.8 L1070.7,635.3 M1083.5,631.9 L1085.2,631.5 L1086.9,631.1 L1088.6,630.6 M1106.0,626.2 L1107.7,625.8 L1109.4,625.4 L1111.1,624.9 M1125.3,621.5 L1127.1,621.1 L1128.9,620.7 L1130.7,620.2 L1132.4,619.8 L1134.2,619.4 L1136.0,619.0 L1137.8,618.5 L1139.6,618.1 L1141.4,617.7 L1143.2,617.3 L1145.0,616.9 M1161.2,613.2 L1162.9,612.8 L1164.7,612.4 L1166.4,612.0 M1174.8,610.1 L1176.7,609.7 L1178.5,609.3 L1180.3,608.9 L1182.2,608.5 L1184.0,608.2 L1185.8,607.8 L1187.7,607.4 L1189.5,607.0 L1191.3,606.6 L1193.2,606.2 L1195.0,605.8 M1211.4,602.3 L1213.2,602.0 L1215.0,601.6 L1216.8,601.2 M1234.9,597.5 L1236.7,597.2 L1238.5,596.8 L1240.3,596.5 M1259.3,592.7 L1261.1,592.4 L1263.0,592.0 L1264.9,591.7 L1266.8,591.3 L1268.6,590.9 L1270.5,590.6 L1272.4,590.2 L1274.3,589.9 L1276.1,589.5 L1278.0,589.2 L1279.9,588.8 M1299.2,585.2 L1301.1,584.9 L1302.9,584.6 L1304.7,584.2 M1318.4,581.8 L1320.2,581.4 L1322.1,581.1 L1323.9,580.8 M1338.6,578.2 L1340.5,577.9 L1342.4,577.6 L1344.3,577.2 L1346.3,576.9 L1348.2,576.6 L1350.1,576.3 L1352.0,575.9 L1353.9,575.6 L1355.8,575.3 L1357.7,575.0 L1359.7,574.6 M1374.8,572.1 L1376.7,571.8 L1378.7,571.5 L1380.6,571.2 L1382.5,570.8 L1384.5,570.5 L1386.4,570.2 L1388.4,569.9 L1390.3,569.6 L1392.2,569.3 L1394.2,569.0 L1396.1,568.7 L1398.1,568.3 M1415.8,565.5 L1417.7,565.3 L1419.5,565.0 L1421.4,564.7 M1437.3,562.2 L1439.2,561.9 L1441.0,561.7 L1442.9,561.4 M1460.3,558.8 L1462.2,558.5 L1464.1,558.2 L1466.0,557.9 L1467.9,557.6 L1469.9,557.4 L1471.8,557.1 L1473.7,556.8 L1475.6,556.5 L1477.5,556.2 L1479.4,556.0 L1481.3,555.7 L1483.2,555.4 M1501.6,552.8 L1503.5,552.5 L1505.3,552.3 L1507.2,552.0 M1523.9,549.7 L1525.8,549.4 L1527.6,549.1 L1529.5,548.9 M1549.4,546.2 L1551.2,545.9 L1553.1,545.7 L1555.0,545.4 L1556.9,545.2 L1558.8,544.9 L1560.7,544.7 L1562.6,544.4 L1564.5,544.2 L1566.4,543.9 M1581.0,542.0 L1582.8,541.8 L1584.7,541.5 L1586.6,541.3 L1588.4,541.0 L1590.3,540.8 L1592.1,540.6 L1594.0,540.3 L1595.8,540.1 L1597.7,539.8 L1599.5,539.6 L1601.4,539.4 L1603.2,539.1 L1605.1,538.9 M1599.8,539.6 L1601.6,539.3 L1603.5,539.1 L1605.3,538.9 M1624.3,536.5 L1626.2,536.3 L1628.0,536.0 L1629.9,535.8 M1649.1,533.4 L1651.0,533.2 L1652.8,533.0 L1654.7,532.8 M1674.9,530.4 L1676.9,530.1 L1678.9,529.9 L1680.8,529.7 L1682.8,529.4 L1684.8,529.2 L1686.8,529.0 L1688.7,528.7 L1690.7,528.5 L1692.7,528.3 L1694.6,528.1 L1696.6,527.8 L1698.6,527.6 M1713.2,525.9 L1715.0,525.7 L1716.9,525.5 L1718.7,525.3 M1738.0,523.1 L1739.9,522.9 L1741.7,522.7 L1743.6,522.5 M1763.4,520.4 L1765.4,520.1 L1767.3,519.9 L1769.2,519.7 L1771.1,519.5 L1773.1,519.3 L1775.0,519.1 L1776.9,518.9 L1778.8,518.7 L1780.8,518.5 L1782.7,518.3 L1784.6,518.1 L1786.5,517.9 M1795.5,516.9 L1797.4,516.7 L1799.3,516.5 L1801.3,516.3 L1803.2,516.1 L1805.1,515.9 L1807.0,515.7 L1809.0,515.5 L1810.9,515.3 L1812.8,515.1 L1814.8,514.9 L1816.7,514.7 M1836.5,512.7 L1838.3,512.5 L1840.2,512.3 L1842.0,512.1 M1861.1,510.2 L1862.9,510.0 L1864.8,509.8 L1866.7,509.7 M1884.4,507.9 L1886.3,507.7 L1888.2,507.5 L1890.1,507.4 L1892.0,507.2 L1893.9,507.0 L1895.8,506.8 L1897.7,506.6 L1899.6,506.4 L1901.5,506.3 L1903.4,506.1 L1905.3,505.9 M1924.5,504.0 L1926.4,503.9 L1928.3,503.7 L1930.1,503.5 M1949.9,501.7 L1951.8,501.5 L1953.6,501.3 L1955.5,501.1 M1976.7,499.2 L1978.7,499.0 L1980.7,498.8 L1982.7,498.6 L1984.7,498.5 L1986.7,498.3 L1988.7,498.1 L1990.7,497.9 L1992.6,497.7 L1994.6,497.6 L1996.6,497.4 L1998.6,497.2 L2000.6,497.0 M2008.2,496.3 L2010.0,496.2 L2011.9,496.0 L2013.8,495.8" fill="none" stroke="#ff0000" stroke-width="8.8" stroke-linecap="butt" stroke-linejoin="round"/>
<path d="M295.5,1283.5 L295.9,1280.5 L296.1,1277.5 L296.4,1274.6 L296.5,1271.6 L296.7,1268.6 L296.8,1265.6 L297.0,1262.6 L297.2,1259.6 L297.4,1256.6 L297.7,1253.6 L298.1,1250.6 L298.6,1247.7 L299.2,1244.8 L300.0,1241.9 L301.0,1239.0 L302.4,1236.4 L304.1,1233.9 L306.2,1231.8 L308.5,1229.9 L310.9,1228.1 L313.3,1226.2 L315.6,1224.4 L317.9,1222.5 L320.2,1220.5 L322.5,1218.5 L324.7,1216.5 L326.8,1214.4 L329.0,1212.3 L331.0,1210.2 L333.1,1208.0 L335.1,1205.7 L337.0,1203.4 L338.9,1201.1 L340.8,1198.8 L342.6,1196.3 L344.3,1193.9 L345.9,1191.4 L347.5,1188.9 L349.0,1186.3 L350.5,1183.6 L351.9,1181.0 L353.2,1178.3 L354.5,1175.6 L355.7,1172.9 L356.9,1170.1 L358.1,1167.3 L359.2,1164.6 L360.2,1161.8 L361.3,1158.9 L362.3,1156.1 L363.3,1153.3 L364.3,1150.5 L365.3,1147.6 L366.2,1144.8 L367.2,1142.0 L368.2,1139.1 L369.1,1136.3 L370.0,1133.4 L371.0,1130.6 L371.9,1127.7 L372.8,1124.9 L373.7,1122.0 L374.6,1119.2 L375.5,1116.3 L376.4,1113.4 L377.3,1110.6 L378.2,1107.7 L379.0,1104.8 L379.9,1102.0 L380.8,1099.1 L381.6,1096.2 L382.5,1093.4 L383.3,1090.5 L384.2,1087.6 L385.0,1084.7 L385.9,1081.9 L386.7,1079.0 L387.6,1076.1 L388.4,1073.2 L389.2,1070.3 L390.1,1067.5 L390.9,1064.6 L391.7,1061.7 L392.6,1058.8 L393.4,1055.9 L394.2,1053.1 L395.0,1050.2 L395.9,1047.3 L396.7,1044.4 L397.5,1041.5 L398.3,1038.6 L399.1,1035.8 L399.9,1032.9 L400.7,1030.0 L401.5,1027.1 L402.4,1024.2 L403.2,1021.3 L404.0,1018.4 L404.8,1015.5 L405.6,1012.7 L406.4,1009.8 L407.2,1006.9 L408.0,1004.0 L408.8,1001.1 L409.6,998.2 L410.4,995.3 L411.2,992.4 L412.0,989.6 L412.8,986.7 L413.6,983.8 L414.4,980.9 L415.2,978.0 L416.0,975.1 L416.8,972.2 L417.6,969.3 L418.4,966.4 L419.2,963.5 L420.0,960.7 L420.8,957.8 L421.6,954.9 L422.4,952.0 L423.2,949.1 L424.0,946.2 L424.8,943.3 L425.6,940.4 L426.4,937.6 L427.2,934.7 L428.0,931.8 L428.8,928.9 L429.6,926.0 L430.5,923.1 L431.3,920.2 L432.1,917.4 L432.9,914.5 L433.7,911.6 L434.5,908.7 L435.4,905.8 L436.2,902.9 L437.0,900.1 L437.9,897.2 L438.7,894.3 L439.5,891.4 L440.4,888.5 L441.2,885.7 L442.1,882.8 L442.9,879.9 L443.8,877.0 L444.6,874.2 L445.5,871.3 L446.3,868.4 L447.2,865.6 L448.1,862.7 L448.9,859.8 L449.8,857.0 L450.7,854.1 L451.6,851.2 L452.5,848.4 L453.4,845.5 L454.2,842.6 L455.1,839.8 L456.0,836.9 L457.0,834.1 L457.9,831.2 L458.8,828.4 L459.7,825.5 L460.6,822.7 L461.6,819.8 L462.5,817.0 L463.5,814.1 L464.4,811.3 L465.4,808.4 L466.3,805.6 L467.3,802.7 L468.2,799.9 L469.2,797.1 L470.2,794.2 L471.2,791.4 L472.2,788.6 L473.2,785.8 L474.2,782.9 L475.2,780.1 L476.2,777.3 L477.2,774.5 L478.3,771.7 L479.3,768.8 L480.3,766.0 L481.4,763.2 L482.5,760.4 L483.5,757.6 L484.6,754.8 L485.7,752.0 L486.8,749.2 L487.8,746.4 L488.9,743.7 L490.1,740.9 L491.2,738.1 L492.3,735.3 L493.4,732.5 L494.6,729.8 L495.7,727.0 L496.9,724.2 L498.0,721.5 L499.2,718.7 L500.4,715.9 L501.6,713.2 L502.8,710.4 L504.0,707.7 L505.2,705.0 L506.4,702.2 L507.7,699.5 L508.9,696.8 L510.2,694.1 L511.4,691.3 L512.7,688.6 L514.0,685.9 L515.3,683.2 L516.6,680.5 L517.9,677.8 L519.3,675.2 L520.6,672.5 L522.0,669.8 L523.4,667.1 L524.8,664.5 L526.2,661.8 L527.6,659.2 L529.0,656.5 L530.4,653.9 L531.9,651.3 L533.3,648.7 L534.8,646.1 L536.3,643.5 L537.8,640.9 L539.3,638.3 L540.8,635.7 L542.4,633.1 L544.0,630.6 L545.5,628.0 L547.1,625.5 L548.7,623.0 L550.3,620.4 L552.0,617.9 L553.6,615.4 L555.3,612.9 L557.0,610.4 L558.7,608.0 L560.4,605.5 L562.1,603.1 L563.9,600.6 L565.6,598.2 L567.4,595.8 L569.2,593.4 L571.0,591.0 L572.8,588.6 L574.7,586.3 L576.5,583.9 L578.4,581.6 L580.3,579.2 L582.2,576.9 L584.1,574.6 L586.1,572.3 L588.0,570.1 L590.0,567.8 L592.0,565.6 L594.0,563.3 L596.0,561.1 L598.0,558.9 L600.0,556.7 L602.1,554.5 L604.2,552.3 L606.2,550.2 L608.3,548.0 L610.4,545.9 L612.5,543.7 L614.6,541.6 L616.8,539.5 L618.9,537.4 L621.1,535.3 L623.2,533.3 L625.4,531.2 L627.6,529.1 L629.8,527.1 L632.0,525.0 L634.2,523.0 L636.4,521.0 L638.6,519.0 L640.8,517.0 L643.1,515.0 L645.3,513.0 L647.6,511.0 L649.9,509.1 L652.1,507.1 L654.4,505.2 L656.7,503.3 L659.0,501.3 L661.3,499.4 L663.6,497.5 L665.9,495.6 L668.3,493.7 L670.6,491.8 L673.0,490.0 L675.3,488.1 L677.7,486.3 L680.0,484.4 L682.4,482.6 L684.8,480.8 L687.1,478.9 L689.5,477.1 L691.9,475.3 L694.3,473.5 L696.7,471.7 L699.2,470.0 L701.6,468.2 L704.0,466.4 L706.4,464.7 L708.9,462.9 L711.3,461.2 L713.7,459.5 L716.2,457.7 L718.7,456.0 L721.1,454.3 L723.6,452.6 L726.1,450.9 L728.5,449.2 L731.0,447.5 L733.5,445.9 L736.0,444.2 L738.5,442.5 L741.0,440.9 L743.5,439.2 L746.0,437.6 L748.5,435.9 L751.0,434.3 L753.5,432.7 L756.1,431.1 L758.6,429.5 L761.1,427.9 L763.7,426.3 L766.2,424.7 L768.8,423.1 L771.3,421.5 L773.8,419.9 L776.4,418.4 L779.0,416.8 L781.5,415.2 L784.1,413.7 L786.6,412.1 L789.2,410.6 L791.8,409.0 L794.4,407.5 L796.9,406.0 L799.5,404.5 L802.1,402.9 L804.7,401.4 L807.3,399.9 L809.9,398.4 L812.5,396.9 L815.1,395.4 L817.7,393.9 L820.3,392.4 L822.9,390.9 L825.5,389.4 L828.1,388.0 L830.7,386.5 L833.3,385.0 L835.9,383.6 L838.5,382.1 L841.2,380.7 L843.8,379.2 L846.4,377.8 L849.0,376.3 L851.7,374.9 L854.3,373.4 L856.9,372.0 L859.6,370.6 L862.2,369.2 L864.9,367.8 L867.5,366.3 L870.1,364.9 L872.8,363.5 L875.4,362.1 L878.1,360.7 L880.8,359.3 L883.4,358.0 L886.1,356.6 L888.7,355.2 L891.4,353.8 L894.1,352.5 L896.7,351.1 L899.4,349.7 L902.1,348.4 L904.8,347.0 L907.4,345.7 L910.1,344.4 L912.8,343.0 L915.5,341.7 L918.2,340.4 L920.9,339.0 L923.6,337.7 L926.3,336.4 L928.9,335.1 L931.6,333.8 L934.3,332.5 L937.0,331.2 L939.8,329.9 L942.5,328.6 L945.2,327.3 L947.9,326.0 L950.6,324.8 L953.3,323.5 L956.0,322.2 L958.7,321.0 L961.5,319.7 L964.2,318.5 L966.9,317.2 L969.6,316.0 L972.4,314.7 L975.1,313.5 L977.8,312.3 L980.6,311.1 L983.3,309.8 L986.1,308.6 L988.8,307.4 L991.5,306.2 L994.3,305.0 L997.0,303.8 L999.8,302.6 L1002.5,301.4 L1005.3,300.2 L1008.1,299.1 L1010.8,297.9 L1013.6,296.7 L1016.3,295.6 L1019.1,294.4 L1021.9,293.2 L1024.6,292.1 L1027.4,290.9 L1030.2,289.8 L1032.9,288.7 L1035.7,287.5 L1038.5,286.4 L1041.3,285.3 L1044.1,284.2 L1046.8,283.0 L1049.6,281.9 L1052.4,280.8 L1055.2,279.7 L1058.0,278.6 L1060.8,277.5 L1063.6,276.4 L1066.4,275.4 L1069.2,274.3 L1072.0,273.2 L1074.8,272.1 L1077.6,271.1 L1080.4,270.0 L1083.2,269.0 L1086.0,267.9 L1088.8,266.9 L1091.6,265.8 L1094.4,264.8 L1097.2,263.8 L1100.0,262.7 L1102.9,261.7 L1105.7,260.7 L1108.5,259.7 L1111.3,258.7 L1114.2,257.7 L1117.0,256.7 L1119.8,255.7 L1122.6,254.7 L1125.5,253.7 L1128.3,252.7 L1131.1,251.7 L1134.0,250.8 L1136.8,249.8 L1139.6,248.8 L1142.5,247.9 L1145.3,246.9 L1148.2,246.0 L1151.0,245.0 L1153.9,244.1 L1156.7,243.2 L1159.6,242.2 L1162.4,241.3 L1165.3,240.4 L1168.1,239.5 L1171.0,238.5 L1173.8,237.6 L1176.7,236.7 L1179.5,235.8 L1182.4,234.9 L1185.3,234.0 L1188.1,233.1 L1191.0,232.3 L1193.9,231.4 L1196.7,230.5 L1199.6,229.6 L1202.5,228.8 L1205.3,227.9 L1208.2,227.0 L1211.1,226.2 L1213.9,225.3 L1216.8,224.5 L1219.7,223.7 L1222.6,222.8 L1225.5,222.0 L1228.3,221.1 L1231.2,220.3 L1234.1,219.5 L1237.0,218.7 L1239.9,217.9 L1242.8,217.1 L1245.6,216.3 L1248.5,215.5 L1251.4,214.7 L1254.3,213.9 L1257.2,213.1 L1260.1,212.3 L1263.0,211.5 L1265.9,210.7 L1268.8,210.0 L1271.7,209.2 L1274.6,208.4 L1277.5,207.7 L1280.4,206.9 L1283.3,206.1 L1286.2,205.4 L1289.1,204.6 L1292.0,203.9 L1294.9,203.2 L1297.8,202.4 L1300.7,201.7 L1303.6,201.0 L1306.5,200.2 L1309.4,199.5 L1312.3,198.8 L1315.3,198.1 L1318.2,197.4 L1321.1,196.7 L1324.0,196.0 L1326.9,195.3 L1329.8,194.6 L1332.7,193.9 L1335.7,193.2 L1338.6,192.5 L1341.5,191.9 L1344.4,191.2 L1347.3,190.5 L1350.3,189.8 L1353.2,189.2 L1356.1,188.5 L1359.0,187.9 L1362.0,187.2 L1364.9,186.5 L1367.8,185.9 L1370.7,185.3 L1373.7,184.6 L1376.6,184.0 L1379.5,183.3 L1382.5,182.7 L1385.4,182.1 L1388.3,181.5 L1391.3,180.8 L1394.2,180.2 L1397.1,179.6 L1400.1,179.0 L1403.0,178.4 L1405.9,177.8 L1408.9,177.2 L1411.8,176.6 L1414.7,176.0 L1417.7,175.4 L1420.6,174.8 L1423.6,174.2 L1426.5,173.6 L1429.4,173.1 L1432.4,172.5 L1435.3,171.9 L1438.3,171.3 L1441.2,170.8 L1444.2,170.2 L1447.1,169.6 L1450.0,169.1 L1453.0,168.5 L1455.9,168.0 L1458.9,167.4 L1461.8,166.9 L1464.8,166.3 L1467.7,165.8 L1470.7,165.2 L1473.6,164.7 L1476.6,164.2 L1479.5,163.6 L1482.5,163.1 L1485.4,162.6 L1488.4,162.1 L1491.3,161.5 L1494.3,161.0 L1497.2,160.5 L1500.2,160.0 L1503.1,159.5 L1506.1,159.0 L1509.0,158.4 L1512.0,157.9 L1515.0,157.4 L1517.9,156.9 L1520.9,156.4 L1523.8,155.9 L1526.8,155.4 L1529.7,155.0 L1532.7,154.5 L1535.6,154.0 L1538.6,153.5 L1541.6,153.0 L1544.5,152.5 L1547.5,152.0 L1550.4,151.6 L1553.4,151.1 L1556.4,150.6 L1559.3,150.2 L1562.3,149.7 L1565.2,149.2 L1568.2,148.7 L1571.2,148.3 L1574.1,147.8 L1577.1,147.4 L1580.1,146.9 L1583.0,146.5 L1586.0,146.0 L1588.9,145.5 L1591.9,145.1 L1594.9,144.6 L1597.8,144.2 L1600.8,143.8 L1603.8,143.3 L1606.7,142.9 L1609.7,142.4 L1612.7,142.0 L1615.6,141.6 L1618.6,141.1 L1621.6,140.7 L1624.5,140.3 L1627.5,139.8 L1630.5,139.4 L1633.4,139.0 L1636.4,138.5 L1639.4,138.1 L1642.3,137.7 L1645.3,137.3 L1648.3,136.8 L1651.2,136.4 L1654.2,136.0 L1657.2,135.6 L1660.1,135.2 L1663.1,134.8 L1666.1,134.3 L1669.0,133.9 L1672.0,133.5 L1675.0,133.1 L1677.9,132.7 L1680.9,132.3 L1683.9,131.9 L1686.9,131.5 L1689.8,131.1 L1692.8,130.7 L1695.8,130.3 L1698.7,129.9 L1701.7,129.5 L1704.7,129.1 L1707.6,128.7 L1710.6,128.3 L1713.6,127.9 L1716.6,127.5 L1719.5,127.1 L1722.5,126.7 L1725.5,126.3 L1728.4,125.9 L1731.4,125.5 L1734.4,125.1 L1737.4,124.7 L1740.3,124.3 L1743.3,124.0 L1746.3,123.6 L1749.3,123.2 L1752.2,122.8 L1755.2,122.4 L1758.2,122.0 L1761.1,121.7 L1764.1,121.3 L1767.1,120.9 L1770.1,120.5 L1773.0,120.2 L1776.0,119.8 L1779.0,119.4 L1782.0,119.0 L1784.9,118.7 L1787.9,118.3 L1790.9,117.9 L1793.9,117.6 L1796.8,117.2 L1799.8,116.8 L1802.8,116.5 L1805.8,116.1 L1808.7,115.8 L1811.7,115.4 L1814.7,115.1 L1817.7,114.7 L1820.7,114.3 L1823.6,114.0 L1826.6,113.6 L1829.6,113.3 L1832.6,112.9 L1835.5,112.6 L1838.5,112.3 L1841.5,111.9 L1844.5,111.6 L1847.5,111.2 L1850.4,110.9 L1853.4,110.6 L1856.4,110.2 L1859.4,109.9 L1862.3,109.5 L1865.3,109.2 L1868.3,108.9 L1871.3,108.6 L1874.3,108.2 L1877.2,107.9 L1880.2,107.6 L1883.2,107.3 L1886.2,106.9 L1889.2,106.6 L1892.1,106.3 L1895.1,106.0 L1898.1,105.7 L1901.1,105.4 L1904.1,105.0 L1907.0,104.7 L1910.0,104.4 L1913.0,104.1 L1916.0,103.8 L1919.0,103.5 L1922.0,103.2 L1924.9,102.9 L1927.9,102.6 L1930.9,102.3 L1933.9,102.0 L1936.9,101.7 L1939.9,101.4 L1942.8,101.2 L1945.8,100.9 L1948.8,100.6 L1951.8,100.3 L1954.8,100.0 L1957.8,99.7 L1960.7,99.5 L1963.7,99.2 L1966.7,98.9 L1969.7,98.6 L1972.7,98.4 L1975.7,98.1 L1978.7,97.8 L1981.6,97.6 L1984.6,97.3 L1987.6,97.0 L1990.6,96.8 L1993.6,96.5 L1996.6,96.3 L1999.6,96.0 L2002.6,95.8 L2005.5,95.5 L2008.5,95.3 L2011.5,95.0 L2014.5,94.8" fill="none" stroke="#000000" stroke-width="8.8" stroke-linecap="butt" stroke-linejoin="round"/>
</g>
</g>
<g font-family='"Liberation Serif", "Times New Roman", Times, serif' font-weight="bold" font-size="89px" fill="#000000" filter="url(#alias)">
<text x="257" y="1309.8" text-anchor="end">0</text>
<text x="257" y="1156.0" text-anchor="end">40</text>
<text x="257" y="1002.2" text-anchor="end">80</text>
<text x="257" y="848.4" text-anchor="end">120</text>
<text x="257" y="694.5" text-anchor="end">160</text>
<text x="257" y="540.7" text-anchor="end">200</text>
<text x="257" y="386.9" text-anchor="end">240</text>
<text x="257" y="233.1" text-anchor="end">280</text>
<text x="257" y="79.3" text-anchor="end">320</text>
<text x="295.5" y="1389.5" text-anchor="middle">0</text>
<text x="541.1" y="1389.5" text-anchor="middle">24</text>
<text x="786.6" y="1389.5" text-anchor="middle">48</text>
<text x="1032.2" y="1389.5" text-anchor="middle">72</text>
<text x="1277.8" y="1389.5" text-anchor="middle">96</text>
<text x="1523.4" y="1389.5" text-anchor="middle">120</text>
<text x="1768.9" y="1389.5" text-anchor="middle">144</text>
<text x="2014.5" y="1389.5" text-anchor="middle">168</text>
</g>
<g font-family='"Liberation Serif", "Times New Roman", Times, serif' font-weight="bold" fill="#000000" filter="url(#alias)">
<text x="1156" y="1527.6" font-size="88.3px" text-anchor="middle">Time (hour)</text>
<text transform="translate(83,668) rotate(-90)" font-size="88px" text-anchor="middle">Cumulative heat (J/g)</text>
</g>
<g font-family='"Liberation Serif", "Times New Roman", Times, serif' font-weight="bold" font-size="66.2px" fill="#000000" filter="url(#alias)">
<text x="1272" y="920.5">100% CSA-SSC</text>
<text x="1304.5" y="1003">90% CSA-SSC+10% FA</text>
<text x="1304.5" y="1086">80% CSA-SSC+20% FA</text>
<text x="1304.5" y="1168">70% CSA-SSC+30% FA</text>
<text x="1272" y="1251">100% OPC</text>
</g>
<g shape-rendering="crispEdges">
<rect x="1106" y="894" width="22" height="8" fill="#000000"/>
<rect x="1160" y="894" width="22" height="8" fill="#000000"/>
<rect x="1214" y="894" width="22" height="8" fill="#000000"/>
<rect x="1143" y="894" width="2" height="8" fill="#000000"/>
<rect x="1197" y="894" width="1" height="8" fill="#000000"/>
<rect x="1251" y="894" width="1" height="8" fill="#000000"/>
<rect x="1106" y="976" width="27" height="9" fill="#ff0000"/>
<rect x="1154" y="976" width="6" height="9" fill="#ff0000"/>
<rect x="1181" y="976" width="6" height="9" fill="#ff0000"/>
<rect x="1209" y="976" width="26" height="9" fill="#ff0000"/>
<rect x="1106" y="1059" width="12" height="8" fill="#00ff00"/>
<rect x="1137" y="1059" width="11" height="8" fill="#00ff00"/>
<rect x="1167" y="1059" width="12" height="8" fill="#00ff00"/>
<rect x="1197" y="1059" width="12" height="8" fill="#00ff00"/>
<rect x="1228" y="1059" width="12" height="8" fill="#00ff00"/>
<rect x="1106" y="1141" width="37" height="9" fill="#0000ff"/>
<rect x="1164" y="1141" width="6" height="9" fill="#0000ff"/>
<rect x="1191" y="1141" width="37" height="9" fill="#0000ff"/>
<rect x="1249" y="1141" width="6" height="9" fill="#0000ff"/>
<rect x="1106" y="1224" width="150" height="8" fill="#000000"/>
</g>
</svg>
</body>
</html>
